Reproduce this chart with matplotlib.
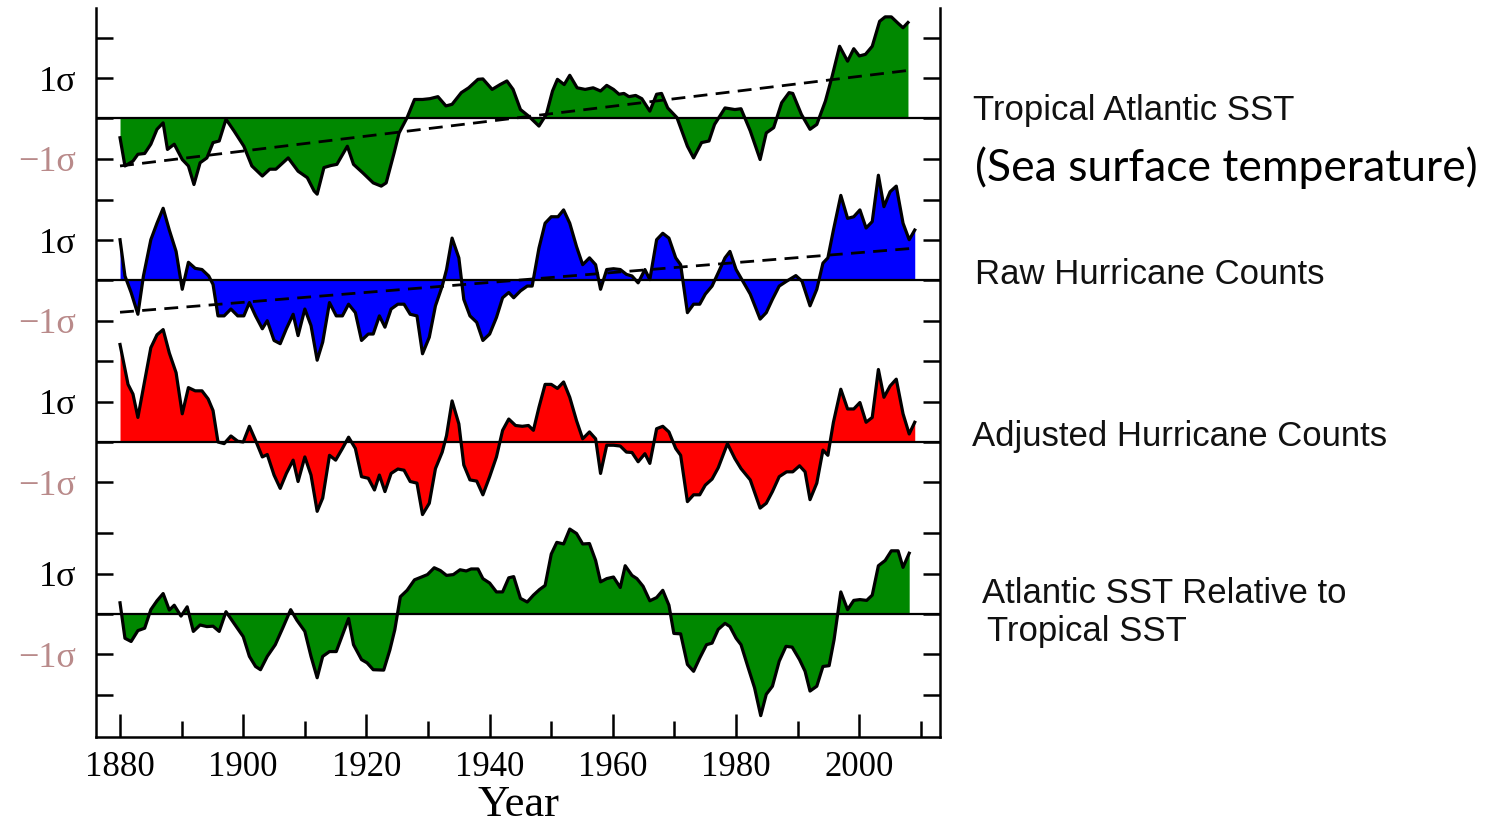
import numpy as np
import matplotlib
matplotlib.use('Agg')
from matplotlib import pyplot

# values, in units of sigma, each series around its own zero line
sst_years = [1880.0, 1880.8, 1882.1, 1882.9, 1884.0, 1885.0, 1886.0, 1887.0, 1887.7, 1888.8,
	1890.1, 1891.1, 1892.0, 1893.0, 1894.1, 1895.1, 1896.1, 1897.2, 1898.5, 1900.1,
	1901.4, 1903.1, 1904.3, 1905.3, 1907.3, 1908.9, 1910.4, 1911.5, 1912.0, 1913.1,
	1914.2, 1915.2, 1916.9, 1917.9, 1919.4, 1921.1, 1922.4, 1923.2, 1924.5, 1925.3,
	1926.6, 1927.8, 1929.1, 1930.3, 1931.6, 1932.9, 1933.9, 1935.4, 1936.6, 1938.1,
	1938.9, 1940.4, 1941.7, 1942.8, 1943.8, 1945.0, 1946.3, 1948.0, 1949.2, 1950.2,
	1951.0, 1952.1, 1953.0, 1954.2, 1955.5, 1956.8, 1958.0, 1959.0, 1960.1, 1961.0,
	1961.8, 1962.6, 1963.7, 1964.7, 1966.0, 1967.1, 1967.9, 1968.9, 1970.4, 1972.1,
	1973.1, 1974.4, 1975.6, 1976.5, 1978.2, 1979.8, 1980.8, 1982.3, 1983.9, 1984.9,
	1986.1, 1987.4, 1988.6, 1989.2, 1990.6, 1992.0, 1993.1, 1994.5, 1995.6, 1996.8,
	1998.1, 1999.1, 2000.0, 2001.0, 2002.1, 2003.3, 2004.2, 2005.2, 2006.3, 2007.1, 2007.9]
sst_vals = [-0.48, -1.18, -1.06, -0.89, -0.87, -0.64, -0.27, -0.11, -0.77, -0.64,
	-1.02, -1.18, -1.64, -1.10, -0.98, -0.60, -0.56, -0.02, -0.31, -0.69,
	-1.18, -1.43, -1.26, -1.26, -0.98, -1.31, -1.47, -1.80, -1.88, -1.22,
	-1.17, -1.14, -0.69, -1.14, -1.35, -1.60, -1.68, -1.60, -0.85, -0.36,
	0.02, 0.47, 0.47, 0.49, 0.54, 0.31, 0.35, 0.64, 0.76, 0.97,
	0.98, 0.72, 0.84, 0.93, 0.72, 0.22, 0.06, -0.19, 0.10, 0.68,
	0.97, 0.84, 1.07, 0.76, 0.72, 0.76, 0.68, 0.82, 0.72, 0.60,
	0.62, 0.54, 0.57, 0.49, 0.18, 0.60, 0.62, 0.26, 0.02, -0.69,
	-0.98, -0.60, -0.56, -0.15, 0.26, 0.22, 0.24, -0.31, -1.02, -0.36,
	-0.23, 0.39, 0.64, 0.62, 0.10, -0.27, -0.15, 0.43, 1.05, 1.79,
	1.42, 1.73, 1.55, 1.59, 1.79, 2.41, 2.52, 2.52, 2.36, 2.25, 2.38]

raw_years = [1880.0, 1880.8, 1881.8, 1882.9, 1883.8, 1885.0, 1886.0, 1887.0, 1888.0, 1889.1,
	1890.1, 1891.1, 1892.2, 1893.3, 1894.4, 1895.1, 1895.9, 1896.9, 1898.0, 1899.1,
	1900.1, 1901.0, 1902.0, 1903.1, 1903.9, 1905.0, 1906.0, 1907.0, 1908.1, 1908.9,
	1910.0, 1911.0, 1912.0, 1912.9, 1914.0, 1915.1, 1916.1, 1917.1, 1918.2, 1919.2,
	1920.3, 1921.1, 1922.1, 1923.0, 1924.0, 1925.1, 1926.1, 1927.1, 1928.2, 1929.1,
	1930.2, 1931.2, 1932.3, 1933.0, 1933.9, 1935.0, 1935.8, 1936.8, 1937.9, 1938.9,
	1940.0, 1941.1, 1942.1, 1943.1, 1943.9, 1945.0, 1946.1, 1946.9, 1948.0, 1949.0,
	1950.0, 1951.1, 1952.0, 1953.0, 1954.1, 1955.1, 1956.2, 1957.2, 1958.0, 1959.0,
	1960.1, 1961.2, 1962.2, 1963.1, 1964.1, 1965.2, 1966.0, 1967.1, 1968.1, 1969.1,
	1970.2, 1971.0, 1972.1, 1973.1, 1974.1, 1975.0, 1976.1, 1977.1, 1978.2, 1979.0,
	1980.0, 1981.1, 1982.3, 1983.9, 1984.9, 1985.9, 1987.0, 1988.2, 1989.7, 1990.7,
	1992.0, 1993.1, 1994.1, 1994.9, 1995.8, 1997.0, 1998.1, 1999.1, 2000.1, 2001.1,
	2002.1, 2003.1, 2004.0, 2005.0, 2006.0, 2007.1, 2008.1, 2009.0]
raw_vals = [1.01, 0.11, -0.30, -0.84, 0.11, 1.01, 1.42, 1.79, 1.25, 0.72,
	-0.22, 0.45, 0.30, 0.27, 0.11, -0.10, -0.88, -0.88, -0.71, -0.88,
	-0.88, -0.55, -0.88, -1.20, -1.00, -1.49, -1.57, -1.20, -0.84, -1.37,
	-0.71, -1.12, -1.98, -1.53, -0.55, -0.88, -0.88, -0.59, -0.80, -1.49,
	-1.33, -1.33, -0.88, -1.16, -0.71, -0.59, -0.59, -0.84, -0.88, -1.82,
	-1.41, -0.63, -0.14, 0.27, 1.05, 0.56, -0.47, -0.88, -1.04, -1.49,
	-1.33, -0.92, -0.43, -0.30, -0.43, -0.26, -0.14, -0.14, 0.80, 1.42,
	1.58, 1.58, 1.75, 1.42, 0.84, 0.39, 0.56, 0.39, -0.22, 0.27,
	0.29, 0.27, 0.15, 0.11, -0.06, 0.27, 0.02, 1.01, 1.17, 1.05,
	0.56, 0.39, -0.80, -0.59, -0.59, -0.34, -0.14, 0.19, 0.56, 0.72,
	0.27, -0.02, -0.34, -0.96, -0.80, -0.47, -0.14, -0.02, 0.12, -0.02,
	-0.63, -0.22, 0.43, 0.56, 1.25, 2.11, 1.54, 1.58, 1.75, 1.30,
	1.46, 2.61, 1.83, 2.20, 2.34, 1.42, 1.01, 1.25]

adj_years = [1880.0, 1881.3, 1882.1, 1882.9, 1884.0, 1885.0, 1886.0, 1887.0, 1888.0, 1889.1,
	1890.1, 1891.1, 1892.2, 1893.3, 1894.3, 1895.1, 1895.9, 1896.9, 1898.0, 1899.1,
	1900.0, 1901.0, 1902.0, 1903.1, 1903.9, 1905.0, 1906.0, 1907.0, 1908.1, 1908.9,
	1910.0, 1911.0, 1912.0, 1912.9, 1914.0, 1915.0, 1916.1, 1917.1, 1918.2, 1919.2,
	1920.3, 1921.3, 1922.1, 1923.0, 1924.0, 1925.1, 1926.1, 1927.1, 1928.2, 1929.1,
	1930.2, 1931.2, 1932.3, 1933.0, 1933.9, 1935.0, 1935.8, 1936.8, 1937.9, 1938.9,
	1940.0, 1941.1, 1942.1, 1943.1, 1944.2, 1945.3, 1946.3, 1947.1, 1948.0, 1949.0,
	1950.0, 1951.0, 1952.0, 1953.0, 1954.1, 1955.1, 1956.2, 1957.2, 1958.0, 1959.0,
	1960.1, 1961.2, 1962.2, 1963.1, 1964.1, 1965.2, 1966.0, 1967.1, 1968.1, 1969.1,
	1970.2, 1971.0, 1972.1, 1973.1, 1974.1, 1975.0, 1976.1, 1977.1, 1978.6, 1979.8,
	1980.8, 1982.3, 1983.9, 1984.9, 1985.9, 1987.0, 1988.2, 1989.2, 1990.3, 1991.2,
	1992.0, 1993.1, 1994.1, 1994.9, 1995.8, 1997.0, 1998.1, 1999.1, 2000.1, 2001.1,
	2002.1, 2003.1, 2004.0, 2005.0, 2006.0, 2007.1, 2008.1, 2009.0]
adj_vals = [2.42, 1.43, 1.19, 0.61, 1.52, 2.34, 2.66, 2.79, 2.21, 1.72,
	0.70, 1.35, 1.27, 1.27, 1.07, 0.78, 0.00, -0.04, 0.15, 0.02,
	0.00, 0.39, 0.04, -0.37, -0.31, -0.82, -1.15, -0.78, -0.45, -0.98,
	-0.37, -0.82, -1.72, -1.39, -0.33, -0.45, -0.16, 0.12, -0.16, -0.86,
	-0.90, -1.19, -0.82, -1.23, -0.78, -0.67, -0.70, -0.98, -1.02, -1.80,
	-1.52, -0.66, -0.25, 0.16, 1.02, 0.45, -0.57, -0.94, -0.97, -1.31,
	-0.86, -0.37, 0.29, 0.57, 0.41, 0.39, 0.41, 0.29, 0.86, 1.43,
	1.43, 1.33, 1.49, 1.11, 0.53, 0.08, 0.25, 0.08, -0.78, -0.08,
	-0.08, -0.10, -0.25, -0.26, -0.49, -0.29, -0.53, 0.33, 0.39, 0.25,
	-0.16, -0.33, -1.48, -1.31, -1.31, -1.07, -0.92, -0.64, -0.04, -0.41,
	-0.66, -0.94, -1.64, -1.52, -1.23, -0.86, -0.74, -0.74, -0.59, -0.74,
	-1.43, -1.02, -0.20, -0.33, 0.49, 1.31, 0.82, 0.82, 0.98, 0.49,
	0.61, 1.80, 1.11, 1.39, 1.56, 0.70, 0.20, 0.49]

rel_years = [1880.0, 1880.8, 1881.8, 1882.9, 1884.0, 1885.0, 1886.0, 1887.0, 1888.0, 1888.8,
	1889.9, 1890.9, 1891.9, 1893.0, 1894.1, 1895.1, 1896.1, 1897.2, 1898.5, 1900.0,
	1901.0, 1902.0, 1902.8, 1903.9, 1905.2, 1906.4, 1907.7, 1908.7, 1910.0, 1911.0,
	1912.0, 1912.9, 1914.0, 1915.1, 1916.1, 1917.1, 1917.9, 1919.2, 1920.1, 1921.1,
	1922.8, 1923.8, 1924.6, 1925.5, 1926.6, 1927.8, 1929.1, 1929.9, 1931.0, 1932.0,
	1933.0, 1934.1, 1935.2, 1936.2, 1937.0, 1938.1, 1938.9, 1940.0, 1941.1, 1942.1,
	1943.1, 1943.9, 1945.0, 1946.1, 1947.1, 1948.1, 1949.0, 1950.0, 1950.9, 1952.0,
	1953.0, 1954.1, 1955.1, 1956.2, 1957.2, 1958.0, 1959.0, 1960.1, 1961.2, 1962.0,
	1963.1, 1963.9, 1964.9, 1966.0, 1967.1, 1968.1, 1969.1, 1969.9, 1971.0, 1972.1,
	1973.1, 1974.1, 1975.2, 1976.1, 1977.1, 1978.2, 1979.0, 1980.0, 1980.8, 1981.9,
	1983.0, 1984.0, 1984.9, 1985.9, 1987.0, 1988.1, 1989.1, 1990.3, 1991.2, 1992.0,
	1993.1, 1994.1, 1995.1, 1995.9, 1997.0, 1998.1, 1999.1, 2000.1, 2001.2, 2002.1,
	2003.1, 2004.2, 2005.2, 2006.3, 2007.1, 2008.1]
rel_vals = [0.28, -0.60, -0.68, -0.41, -0.35, 0.11, 0.33, 0.51, 0.10, 0.22,
	-0.05, 0.18, -0.43, -0.27, -0.31, -0.30, -0.43, 0.06, -0.23, -0.56,
	-1.05, -1.30, -1.38, -1.05, -0.76, -0.35, 0.11, -0.15, -0.43, -1.05,
	-1.58, -1.05, -0.93, -0.93, -0.52, -0.11, -0.76, -1.13, -1.21, -1.38,
	-1.39, -0.89, -0.39, 0.43, 0.59, 0.85, 0.93, 0.98, 1.15, 1.08,
	0.96, 0.98, 1.10, 1.07, 1.12, 1.12, 0.88, 0.77, 0.55, 0.55,
	0.90, 0.93, 0.39, 0.30, 0.47, 0.61, 0.71, 1.49, 1.78, 1.74,
	2.11, 2.00, 1.74, 1.75, 1.33, 0.80, 0.88, 0.92, 0.66, 1.20,
	0.96, 0.88, 0.69, 0.33, 0.41, 0.59, 0.22, -0.48, -0.49, -1.25,
	-1.42, -1.09, -0.76, -0.72, -0.38, -0.23, -0.31, -0.60, -0.76, -1.30,
	-1.83, -2.52, -1.99, -1.79, -1.17, -0.80, -0.82, -1.13, -1.42, -1.91,
	-1.79, -1.30, -1.28, -0.64, 0.55, 0.11, 0.34, 0.36, 0.34, 0.47,
	1.20, 1.33, 1.57, 1.57, 1.16, 1.51]

# linear trends (dashed), end points
sst_trend_years = [1880.0, 2007.9]
sst_trend_vals = [-1.18, 1.19]
raw_trend_years = [1880.0, 2009.0]
raw_trend_vals = [-0.79, 0.80]

labels = ['Tropical Atlantic SST', 'Raw Hurricane Counts', 'Adjusted Hurricane Counts',
	'Atlantic SST Relative to']
offsets = [12.3, 8.28, 4.27, 0.0]
colors = ['#008800', '#0000ff', '#ff0000', '#008800']
xtick_years = [1880, 1900, 1920, 1940, 1960, 1980, 2000]


def draw_panel(ax, years, vals, offset, color):
	x = np.array(years)
	y = np.array(vals) + offset
	ax.fill_between(x, offset, y, color = color, linewidth = 0, zorder = 2)
	ax.plot(x, y, color = 'k', lw = 2.3, zorder = 4, solid_joinstyle = 'round')
	ax.axhline(offset, color = 'k', lw = 1.6, zorder = 3)


def make_plot():
	pyplot.rcParams['font.family'] = 'Liberation Serif'
	fig = pyplot.figure(figsize = [14.86, 8.27], dpi = 100)
	ax = fig.add_axes([96/1486, 90/827, 844/1486, 729/827])

	series = [(sst_years, sst_vals), (raw_years, raw_vals), (adj_years, adj_vals), (rel_years, rel_vals)]
	for (yrs, vals), off, col in zip(series, offsets, colors):
		draw_panel(ax, yrs, vals, off, col)

	dash = dict(color = 'k', lw = 2.0, dashes = (5, 3), zorder = 5)
	ax.plot(sst_trend_years, np.array(sst_trend_vals) + offsets[0], **dash)
	ax.plot(raw_trend_years, np.array(raw_trend_vals) + offsets[1], **dash)

	ax.set_xlim(1876.1, 2013.1)
	ax.set_ylim(-3.05, 15.04)

	# y ticks: -1..+2 sigma around each zero line, -2 also for the bottom one
	yt = []
	ylab = []
	for i, off in enumerate(offsets):
		steps = [-2, -1, 0, 1, 2] if i == 3 else [-1, 0, 1, 2]
		for k in steps:
			yt.append(off + k)
			ylab.append({1: '1σ', -1: '\u22121σ'}.get(k, ''))
	ax.set_yticks(yt)
	ax.set_yticklabels(ylab, fontsize = 26)
	for t, lab in zip(ax.get_yticklabels(), ylab):
		if lab.startswith('\u2212'):
			t.set_color('#b98a8a')

	ax.set_xticks(xtick_years)
	ax.set_xticks(np.arange(1890, 2011, 20), minor = True)
	ax.set_xticklabels([str(v) for v in xtick_years], fontsize = 25)
	ax.set_xlabel('Year', fontsize = 32, labelpad = 1)

	ax.tick_params(axis = 'y', which = 'both', direction = 'in', length = 12, width = 1.8,
		left = True, right = True, pad = 14)
	ax.tick_params(axis = 'x', which = 'major', direction = 'in', length = 16.5, width = 1.8,
		top = False, pad = 10)
	ax.tick_params(axis = 'x', which = 'minor', direction = 'in', length = 11.5, width = 1.8,
		top = False)
	ax.spines['top'].set_visible(False)
	for s in ['left', 'right', 'bottom']:
		ax.spines[s].set_linewidth(1.8)

	# labels on the right
	sans = dict(family = 'Liberation Sans', fontsize = 25, color = '#111111', va = 'baseline')
	fig.text(973/1486, 1 - 120/827, labels[0], **sans)
	fig.text(975/1486, 1 - 181/827, '(Sea surface temperature)', family = 'Lato',
		fontsize = 32, color = 'k', va = 'baseline')
	fig.text(975/1486, 1 - 284/827, labels[1], **sans)
	fig.text(972/1486, 1 - 446/827, labels[2], **sans)
	fig.text(982/1486, 1 - 603/827, labels[3], **sans)
	fig.text(987/1486, 1 - 641/827, 'Tropical SST', **sans)

	pyplot.savefig('out.png', dpi = 100)


if __name__ == "__main__":
	make_plot()
